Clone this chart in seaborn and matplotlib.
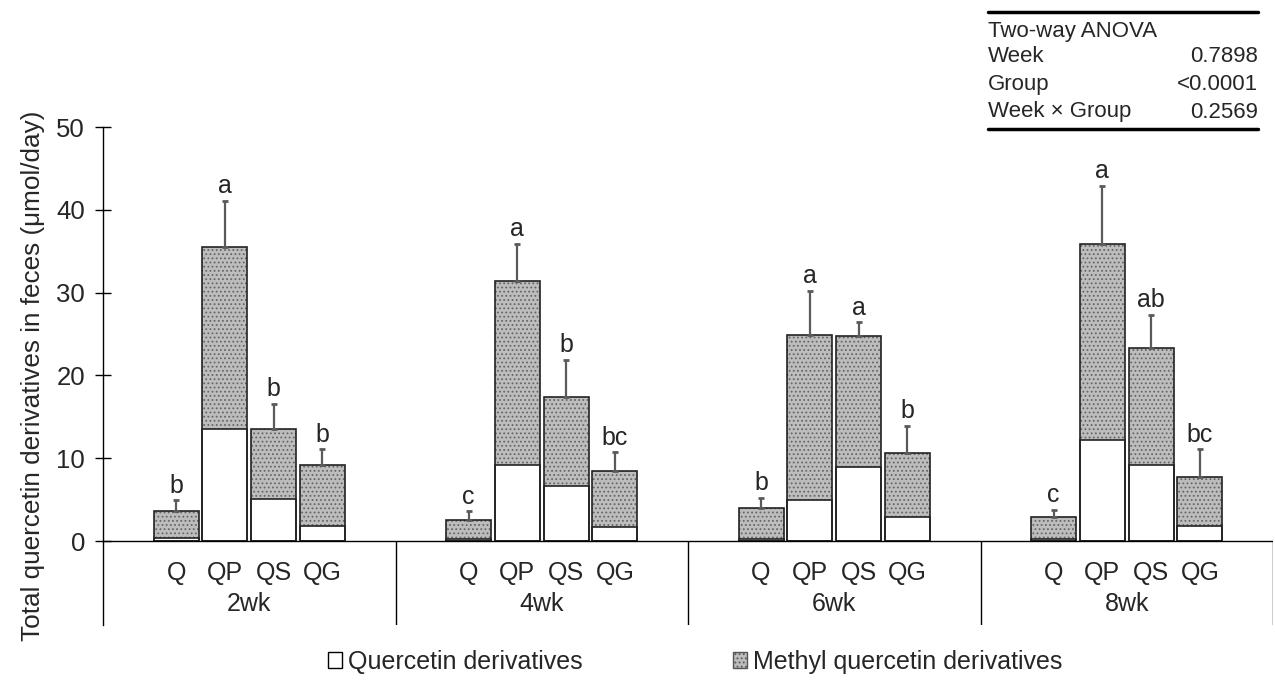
import matplotlib
matplotlib.use("Agg")
import matplotlib.pyplot as plt
from matplotlib.patches import Patch
import seaborn as sns
import pandas as pd
import numpy as np

# ---- data ----
weeks = ["2wk", "4wk", "6wk", "8wk"]
groups = ["Q", "QP", "QS", "QG"]
quercetin = [0.4, 13.5, 5.1, 1.8,
             0.2, 9.2, 6.6, 1.7,
             0.3, 5.0, 8.9, 2.9,
             0.2, 12.2, 9.2, 1.8]
total = [3.6, 35.5, 13.5, 9.2,
         2.6, 31.4, 17.4, 8.4,
         4.0, 24.9, 24.8, 10.6,
         2.9, 35.9, 23.3, 7.7]
sd = [1.3, 5.6, 3.1, 1.9,
      1.0, 4.5, 4.5, 2.3,
      1.2, 5.3, 1.6, 3.3,
      0.9, 7.0, 4.0, 3.4]
letters = ["b", "a", "b", "b",
           "c", "a", "b", "bc",
           "b", "a", "a", "b",
           "c", "a", "ab", "bc"]
anova_terms = ["Week", "Group", "Week \u00d7 Group"]
anova_p = ["0.7898", "<0.0001", "0.2569"]

sns.set_theme(style="white")
plt.rcParams["font.family"] = ["Liberation Sans", "DejaVu Sans"]
plt.rcParams["hatch.linewidth"] = 0.8

# six slots per week, bars in the middle four
slot = 6
df = pd.DataFrame({
    "week": np.repeat(weeks, len(groups)),
    "group": groups * len(weeks),
    "quercetin": quercetin,
    "total": total,
    "sd": sd,
    "letter": letters,
})
df["pos"] = [w * slot + 1.5 + g for w in range(len(weeks)) for g in range(len(groups))]

fig = plt.figure(figsize=(12.75, 6.83), dpi=100)
ax = fig.add_axes([103 / 1275, 1 - 625 / 683, 1170 / 1275, 498 / 683])

fs = 18
ybot = -10.14
methyl_col = "#bdbdbd"

# methyl (stippled) part = full stack height
sns.barplot(data=df, x="pos", y="total", native_scale=True, width=0.92,
            color=methyl_col, edgecolor="#666666", linewidth=0, hatch="....",
            errorbar=None, ax=ax, saturation=1)
# quercetin part (white, at the bottom)
sns.barplot(data=df, x="pos", y="quercetin", native_scale=True, width=0.92,
            color="white", edgecolor="#222222", linewidth=1.2,
            errorbar=None, ax=ax, saturation=1)
# outline of the whole bar
sns.barplot(data=df, x="pos", y="total", native_scale=True, width=0.92,
            color="#222222", fill=False, linewidth=1.2,
            errorbar=None, ax=ax)

ax.errorbar(df["pos"], df["total"], yerr=[np.zeros(len(df)), df["sd"]],
            fmt="none", ecolor="#5a5a5a", elinewidth=1.6, capsize=2.5,
            capthick=2, zorder=1)

for _, r in df.iterrows():
    ax.text(r["pos"], r["total"] + r["sd"] + 0.3, r["letter"],
            ha="center", va="bottom", fontsize=fs)
    ax.text(r["pos"], -3.85, r["group"], ha="center", va="center", fontsize=fs)

for i, w in enumerate(weeks):
    ax.text(i * slot + slot / 2, -7.6, w, ha="center", va="center", fontsize=fs)

ax.axhline(0, color="black", lw=1)
ax.vlines([slot * (i + 1) for i in range(len(weeks))], ybot, 0, color="black", lw=1)

ax.set_xlim(0, slot * len(weeks))
ax.set_ylim(ybot, 50)
ax.set_yticks(range(0, 51, 10))
ax.set_xticks([])
ax.set_xlabel("")
ax.set_ylabel("Total quercetin derivatives in feces (\u03bcmol/day)", fontsize=18.8, labelpad=8)
ax.tick_params(axis="y", direction="inout", length=12, width=1, labelsize=18.5,
               left=True, pad=7, color="black")
for s in ["top", "right", "bottom"]:
    ax.spines[s].set_visible(False)
ax.spines["left"].set_color("black")
ax.spines["left"].set_linewidth(1)
ax.patch.set_alpha(0)

# legend
handles = [Patch(facecolor="white", edgecolor="black", lw=1),
           Patch(facecolor=methyl_col, edgecolor="#555555", lw=1, hatch="....")]
fig.legend(handles, ["Quercetin derivatives", "Methyl quercetin derivatives"],
           loc="center", bbox_to_anchor=(0.545, 0.031), ncol=2, frameon=False,
           fontsize=fs, handlelength=0.56, handleheight=0.56, handletextpad=0.25,
           columnspacing=6.0)

# ANOVA table, top right
x0, x1 = 988 / 1275, 1258 / 1275
fig.add_artist(plt.Line2D([x0, x1], [1 - 12 / 683] * 2, color="black", lw=2.5))
fig.add_artist(plt.Line2D([x0, x1], [1 - 129 / 683] * 2, color="black", lw=2.5))
fs_t = 16
fig.text(x0, 1 - 31 / 683, "Two-way ANOVA", ha="left", va="center", fontsize=fs_t)
for k, (t, p) in enumerate(zip(anova_terms, anova_p)):
    yy = 1 - (57 + 27.5 * k) / 683
    fig.text(x0, yy, t, ha="left", va="center", fontsize=fs_t)
    fig.text(x1, yy, p, ha="right", va="center", fontsize=fs_t)

fig.savefig("out.png", dpi=100)
